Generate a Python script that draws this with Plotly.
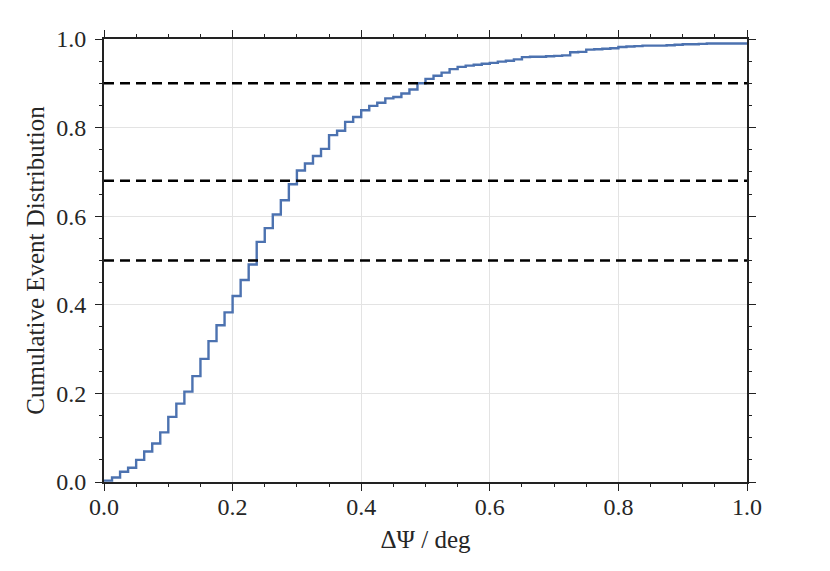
import plotly.graph_objects as go

# Step positions (left edge of each level) and cumulative fraction
step_x = [0.0, 0.0125, 0.025, 0.0375, 0.05, 0.0625, 0.075, 0.0875,
          0.1, 0.1125, 0.125, 0.1375, 0.15, 0.1625, 0.175, 0.1875,
          0.2, 0.2125, 0.225, 0.2375, 0.25, 0.2625, 0.275, 0.2875,
          0.3, 0.3125, 0.325, 0.3375, 0.35, 0.3625, 0.375, 0.3875,
          0.4, 0.4125, 0.425, 0.4375, 0.45, 0.4625, 0.475, 0.4875,
          0.5, 0.5125, 0.525, 0.5375, 0.55, 0.5625, 0.575, 0.5875,
          0.6, 0.6125, 0.625, 0.6375, 0.65, 0.6625, 0.675, 0.6875,
          0.7, 0.7125, 0.725, 0.7375, 0.75, 0.7625, 0.775, 0.7875,
          0.8, 0.8125, 0.825, 0.8375, 0.85, 0.8625, 0.875, 0.8875,
          0.9, 0.9125, 0.925, 0.9375, 0.95, 0.9625, 0.975, 0.9875,
          1.0]
cdf = [0.003, 0.010, 0.023, 0.032, 0.050, 0.069, 0.087, 0.112,
       0.147, 0.177, 0.204, 0.239, 0.278, 0.318, 0.354, 0.383,
       0.420, 0.456, 0.491, 0.542, 0.573, 0.604, 0.636, 0.672,
       0.703, 0.719, 0.736, 0.752, 0.783, 0.793, 0.813, 0.824,
       0.839, 0.849, 0.856, 0.866, 0.869, 0.877, 0.886, 0.900,
       0.910, 0.917, 0.924, 0.932, 0.937, 0.940, 0.942, 0.944,
       0.946, 0.949, 0.951, 0.954, 0.959, 0.960, 0.960, 0.961,
       0.962, 0.963, 0.970, 0.971, 0.976, 0.977, 0.978, 0.979,
       0.982, 0.983, 0.984, 0.985, 0.985, 0.985, 0.986, 0.987,
       0.988, 0.988, 0.989, 0.990, 0.990, 0.990, 0.990, 0.990,
       0.990]
ref_levels = [0.5, 0.68, 0.9]

x_tick_vals = [0.0, 0.2, 0.4, 0.6, 0.8, 1.0]
x_tick_text = ["0.0", "0.2", "0.4", "0.6", "0.8", "1.0"]
y_tick_vals = [0.0, 0.2, 0.4, 0.6, 0.8, 1.0]
y_tick_text = ["0.0", "0.2", "0.4", "0.6", "0.8", "1.0"]

FONT = "Liberation Serif"
TXT = "#262626"
SPINE = "#222222"

fig = go.Figure()
fig.add_trace(go.Scatter(
    x=step_x, y=cdf, mode="lines", line_shape="hv",
    line=dict(color="#4C72B0", width=2.4), showlegend=False,
    hoverinfo="skip"))

for lv in ref_levels:
    fig.add_hline(y=lv, line=dict(color="black", width=2.4, dash="10px,6px"),
                  layer="above")

axis_common = dict(
    showline=True, linecolor=SPINE, linewidth=1.8, mirror="allticks",
    ticks="outside", ticklen=7, tickwidth=1.4, tickcolor=SPINE,
    showgrid=True, gridcolor="#e3e3e3", gridwidth=1.4,
    zeroline=False,
    tickfont=dict(family=FONT, size=24, color=TXT),
    minor=dict(ticks="outside", ticklen=3.5, tickwidth=1.2,
               tickcolor=SPINE, dtick=0.05, showgrid=False),
)

fig.update_xaxes(range=[0, 1], tickvals=x_tick_vals, ticktext=x_tick_text,
                 title=dict(text="ΔΨ / deg", font=dict(family=FONT, size=25, color=TXT),
                            standoff=12),
                 ticklabelstandoff=-5,
                 **axis_common)
fig.update_yaxes(range=[0, 1], tickvals=y_tick_vals, ticktext=y_tick_text,
                 title=dict(text="Cumulative Event Distribution",
                            font=dict(family=FONT, size=25, color=TXT), standoff=5),
                 ticklabelstandoff=4,
                 **axis_common)

fig.update_layout(
    width=822, height=563,
    margin=dict(l=96, r=83, t=31, b=89),
    plot_bgcolor="white", paper_bgcolor="white",
    font=dict(family=FONT, color=TXT),
)

fig.write_html("out.html")
